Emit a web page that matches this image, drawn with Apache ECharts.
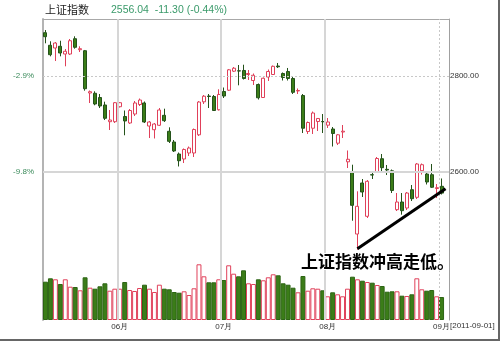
<!DOCTYPE html>
<html><head><meta charset="utf-8">
<script src="https://cdn.jsdelivr.net/npm/echarts@6/dist/echarts.min.js"></script>
<style>html,body{margin:0;padding:0;background:#fff}#c{width:500px;height:341px}</style>
</head><body><div id="c"></div>
<script>
const dates = ['05-11','05-12','05-13','05-16','05-17','05-18','05-19','05-20','05-23','05-24','05-25','05-26','05-27','05-30','05-31',
'06-01','06-02','06-03','06-07','06-08','06-09','06-10','06-13','06-14','06-15','06-16','06-17','06-20','06-21','06-22','06-23','06-24','06-27','06-28','06-29','06-30',
'07-01','07-04','07-05','07-06','07-07','07-08','07-11','07-12','07-13','07-14','07-15','07-18','07-19','07-20','07-21','07-22','07-25','07-26','07-27','07-28','07-29',
'08-01','08-02','08-03','08-04','08-05','08-08','08-09','08-10','08-11','08-12','08-15','08-16','08-17','08-18','08-19','08-22','08-23','08-24','08-25','08-26','08-29','08-30','08-31',
'09-01'];
const opens = [2890.2,2864.0,2858.3,2861.9,2845.8,2845.8,2877.7,2854.8,2852.7,2764.6,
2764.0,2755.2,2739.6,2704.8,2704.8,2736.0,2715.6,2702.1,2720.8,2740.6,
2743.8,2695.8,2688.1,2697.3,2718.1,2684.8,2662.5,2637.5,2627.1,2639.6,
2639.6,2677.5,2746.2,2758.3,2757.3,2729.6,2767.7,2770.4,2810.0,2810.8,
2811.5,2803.1,2790.6,2782.3,2755.2,2797.9,2803.1,2820.8,2805.2,2809.4,
2794.8,2768.8,2759.4,2684.4,2691.2,2705.2,2705.2,2697.5,2689.6,2660.0,
2683.3,2621.2,2600.0,2470.8,2577.1,2507.7,2594.4,2600.0,2627.7,2605.6,
2602.5,2521.5,2537.5,2525.0,2563.1,2547.3,2602.7,2595.8,2594.4,2565.6,
2570.2];
const closes = [2881.9,2844.4,2868.7,2847.9,2851.5,2873.5,2859.8,2856.9,2773.5,2767.3,
2741.7,2737.5,2711.9,2708.3,2744.4,2744.4,2706.3,2728.1,2743.8,2750.0,
2704.2,2704.2,2700.0,2729.2,2706.9,2663.9,2643.8,2623.5,2646.9,2650.0,
2688.5,2745.8,2757.9,2757.3,2728.1,2761.5,2758.3,2812.9,2816.2,2810.4,
2794.8,2805.2,2801.5,2754.6,2795.4,2809.4,2820.2,2819.2,2796.9,2794.8,
2766.0,2769.8,2691.2,2703.1,2722.9,2711.5,2704.6,2704.2,2680.2,2677.5,
2685.0,2626.5,2530.6,2528.5,2558.3,2580.6,2593.7,2628.1,2609.0,2604.2,
2561.5,2537.5,2519.4,2556.2,2544.4,2616.7,2615.2,2579.2,2568.2,2567.34,
2556.04];
const lows = [2868.1,2841.0,2831.2,2841.0,2820.2,2843.7,2856.9,2850.0,2769.4,2743.7,
2739.0,2733.3,2708.3,2687.5,2702.1,2734.4,2676.5,2700.0,2716.7,2737.5,
2702.1,2670.8,2669.8,2695.8,2704.2,2660.4,2641.7,2611.5,2618.7,2633.3,
2631.2,2675.0,2741.7,2733.3,2727.1,2728.1,2754.2,2768.8,2808.3,2780.6,
2792.7,2791.7,2781.2,2751.0,2754.2,2789.6,2802.1,2816.7,2790.6,2790.6,
2762.5,2762.5,2681.2,2679.2,2679.2,2685.4,2681.2,2691.7,2653.1,2656.2,
2670.8,2608.3,2498.5,2438.1,2547.9,2504.2,2585.4,2597.9,2600.0,2593.7,
2556.2,2518.7,2511.1,2520.8,2539.6,2543.7,2594.7,2574.0,2566.7,2545.8,
2553.1];
const highs = [2895.8,2872.3,2870.8,2873.5,2856.2,2877.1,2882.7,2861.9,2854.2,2769.8,
2768.1,2762.5,2746.5,2729.2,2745.8,2745.8,2728.1,2731.2,2747.9,2753.1,
2746.9,2706.3,2702.1,2733.3,2731.9,2693.1,2666.7,2640.6,2649.0,2653.1,
2690.6,2747.9,2760.4,2762.5,2760.4,2772.3,2776.0,2814.6,2818.7,2822.9,
2823.5,2812.5,2805.2,2784.4,2796.9,2813.5,2821.9,2827.1,2807.3,2816.7,
2797.9,2774.0,2762.5,2705.2,2726.0,2712.5,2720.8,2712.5,2693.7,2679.2,
2697.9,2644.8,2615.2,2559.8,2585.4,2583.3,2602.1,2631.2,2637.5,2614.6,
2605.2,2556.2,2556.2,2558.3,2572.9,2618.7,2617.7,2600.0,2616.7,2575.0,
2586.5];
const volumes = [1149,1251,1221,1080,1221,999,990,891,1281,969,
939,1011,1101,879,939,939,1140,900,870,960,
1059,939,840,1059,939,921,840,819,861,750,
951,1671,1311,1131,1131,1221,1200,1641,1389,1311,
1491,1101,1080,1221,1191,1281,1371,1341,1101,1059,
969,831,1320,879,951,939,891,711,831,771,
711,939,1299,1221,1179,1140,1119,1050,1020,849,
861,861,729,720,771,1251,921,879,900,711,
690];
const priceTicks = [2600, 2800];
const pctLabels = ['-9.8%', '-2.9%'];
const trendLine = [[63.5, 2440], [81.3, 2565]];
const indexName = '上证指数';
const note = '上证指数冲高走低。';
const lastDate = '[2011-09-01]';

const UP = '#e0405a', DOWN = '#3b7d18', DOWNB = '#24521a';
const cats = dates.concat(['']);
const N = cats.length;
const candle = dates.map((d, i) => [opens[i], closes[i], lows[i], highs[i]]);
const monthStart = [];
dates.forEach((d, i) => { if (i > 0 && d.slice(0, 2) !== dates[i - 1].slice(0, 2)) monthStart.push(i); });
const last = closes[closes.length - 1], prev = closes[closes.length - 2];
const chg = last - prev, pct = chg / prev * 100;
const headText = last.toFixed(2) + '  ' + chg.toFixed(2) + ' (' + pct.toFixed(2) + '%)';

const small = "'Liberation Sans',sans-serif";
const yMin = 2291.67, yMax = 2918.75;

const chart = echarts.init(document.getElementById('c'));
chart.setOption({
  animation: false,
  backgroundColor: '#fff',
  grid: [
    {left: 43, right: 51, top: 19, bottom: 21},
    {left: 43, right: 51, top: 200, bottom: 21}
  ],
  xAxis: [
    {type: 'category', gridIndex: 0, data: cats, boundaryGap: true,
     axisLine: {show: false}, axisTick: {show: false}, splitLine: {show: false},
     axisLabel: {interval: (i) => monthStart.indexOf(i) >= 0, formatter: (v) => v.slice(0, 2) + '月',
       fontSize: 8, color: '#333', margin: 3, fontFamily: small}},
    {type: 'value', gridIndex: 0, min: 0, max: N, position: 'top',
     axisLine: {show: true, lineStyle: {color: '#a8a8a8', width: 1}}, axisTick: {show: false},
     axisLabel: {show: false}, splitLine: {show: false}},
    {type: 'category', gridIndex: 1, data: cats, show: false}
  ],
  yAxis: [
    {type: 'value', gridIndex: 0, position: 'left', min: yMin, max: yMax,
     axisLine: {show: true, lineStyle: {color: '#b4b4b4', width: 2}}, axisTick: {show: false}, splitLine: {show: false},
     axisLabel: {customValues: priceTicks, formatter: (v) => pctLabels[priceTicks.indexOf(v)] || '',
       color: '#3a8a5a', fontSize: 8, margin: 9, fontFamily: small}},
    {type: 'value', gridIndex: 0, position: 'right', min: yMin, max: yMax,
     axisLine: {show: true, lineStyle: {color: '#a0a0a0', width: 1}}, axisTick: {show: false}, splitLine: {show: false},
     axisLabel: {customValues: priceTicks, formatter: (v) => v.toFixed(2), color: '#333', fontSize: 8, margin: 1, fontFamily: small}},
    {type: 'value', gridIndex: 1, min: 0, max: 3600, show: false}
  ],
  series: [
    {type: 'line', xAxisIndex: 1, yAxisIndex: 1, data: [], z: 1, silent: true,
     markLine: {silent: true, symbol: 'none', label: {show: false},
       data: monthStart.map((m, k) => ({xAxis: m, lineStyle: k === monthStart.length - 1
         ? {color: '#c8c8c8', width: 1, type: [2, 2]} : {color: '#d6d6d6', width: 2, type: 'solid'}}))
         .concat([
           {yAxis: priceTicks[1], lineStyle: {color: '#c8c8c8', width: 1, type: [2, 2]}},
           {yAxis: priceTicks[0], lineStyle: {color: '#d6d6d6', width: 2, type: 'solid'}}
         ])}},
    {type: 'bar', xAxisIndex: 2, yAxisIndex: 2, barWidth: '100%', barCategoryGap: '0%', z: 2,
     data: volumes.map((v, i) => ({value: v, itemStyle: closes[i] >= opens[i]
       ? {color: '#fff', borderColor: UP, borderWidth: 1} : {color: DOWN, borderColor: '#2c6414', borderWidth: 1}}))},
    {type: 'candlestick', xAxisIndex: 0, yAxisIndex: 1, barWidth: 3.5, z: 3, data: candle,
     itemStyle: {color: '#fff', color0: DOWN, borderColor: UP, borderColor0: DOWNB, borderWidth: 1}},
    {type: 'line', xAxisIndex: 1, yAxisIndex: 1, data: trendLine, symbol: 'none', z: 5, silent: true,
     lineStyle: {color: '#000', width: 3}}
  ],
  graphic: [
    {type: 'text', left: 45, top: 4, style: {text: indexName, font: "11px 'Noto Sans CJK SC'", fill: '#222'}},
    {type: 'text', left: 111, top: 5, style: {text: headText, font: "10.5px " + small, fill: '#3a9a6a'}},
    {type: 'text', left: 450, top: 322, style: {text: lastDate, font: "8px " + small, fill: '#333'}},
    {type: 'text', left: 300, top: 252, z: 10, style: {text: note, font: "bold 17px 'Noto Sans CJK SC'", fill: '#000',
      stroke: '#fff', lineWidth: 2}},
    {type: 'rect', left: 0, top: 339, shape: {width: 500, height: 2}, style: {fill: '#666'}},
    {type: 'rect', left: 498, top: 0, shape: {width: 2, height: 341}, style: {fill: '#666'}}
  ]
});
</script></body></html>
